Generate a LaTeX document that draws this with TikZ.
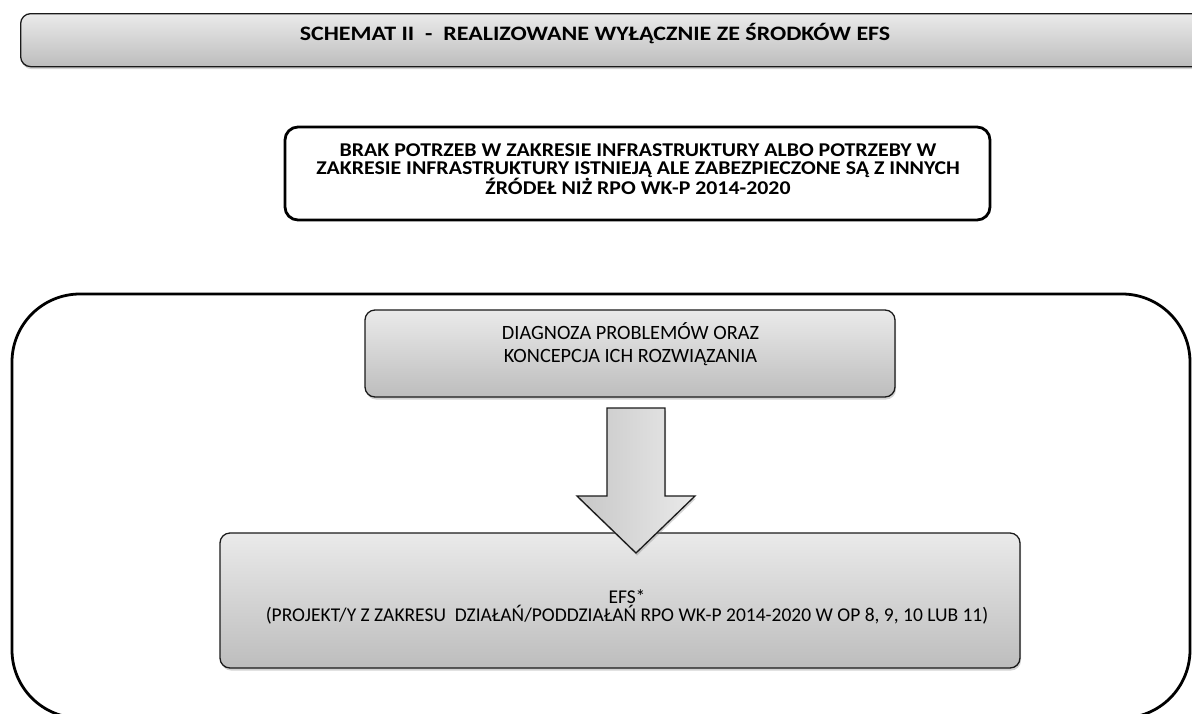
\documentclass[tikz,border=0pt]{standalone}
\usepackage{fontspec}
\setmainfont{Carlito}
\newfontfamily\widebold[FakeStretch=1.17]{Carlito}
\newfontfamily\condbold[FakeStretch=1.12]{Carlito}
\usetikzlibrary{shadows}
\definecolor{boxtop}{HTML}{EAEAEA}
\definecolor{boxbot}{HTML}{BDBDBD}
\definecolor{edge}{HTML}{1A1A1A}
\tikzset{
  grad/.style={top color=boxtop, bottom color=boxbot},
  shad/.style={drop shadow={opacity=0.35, shadow xshift=1pt, shadow yshift=-2.5pt}},
  graybox/.style={draw=edge, line width=1.3pt, rounded corners=10pt, grad, shad},
  whitebox/.style={draw=black, line width=2.8pt, rounded corners=13pt, fill=white},
  bigframe/.style={draw=black, line width=2.8pt, rounded corners=68pt},
  label/.style={inner sep=0pt, align=center},
}
\begin{document}
\begin{tikzpicture}[x=1pt,y=-1pt]
\useasboundingbox (0,0) rectangle (1192,713);
\clip (0,0) rectangle (1192,713);
% title bar
\node[graybox, minimum width=1200pt, minimum height=53pt, anchor=north west] (bar) at (20,13) {};
\node[label, font=\widebold\bfseries\fontsize{20.5}{24}\selectfont] (title) at (595,33.5) {SCHEMAT II\ \ -\ \ REALIZOWANE WYŁĄCZNIE ZE ŚRODKÓW EFS};
% condition box
\node[whitebox, minimum width=705pt, minimum height=93pt] (cond) at (637.5,173.5) {};
\node[label, font=\condbold\bfseries\fontsize{19.5}{18.1}\selectfont] (condt) at (638,169)
 {BRAK POTRZEB W ZAKRESIE INFRASTRUKTURY ALBO POTRZEBY W\\ZAKRESIE INFRASTRUKTURY ISTNIEJĄ ALE ZABEZPIECZONE SĄ Z INNYCH\\ŹRÓDEŁ NIŻ RPO WK-P 2014-2020};
% big frame
\node[bigframe, minimum width=1178pt, minimum height=424pt] (frame) at (601,506) {};
% diagnosis box
\node[graybox, minimum width=530pt, minimum height=87pt] (diag) at (630,353.5) {};
\node[label, font=\fontsize{20.3}{22.4}\selectfont] (diagt) at (630.5,344) {DIAGNOZA PROBLEMÓW ORAZ\\KONCEPCJA ICH ROZWIĄZANIA};
% EFS box
\node[graybox, minimum width=800pt, minimum height=135pt] (efs) at (620,600.5) {};
\node[label, font=\fontsize{19.5}{18.6}\selectfont] (efst) at (627,607) {EFS*\\(PROJEKT/Y Z ZAKRESU\ \ DZIAŁAŃ/PODDZIAŁAŃ RPO WK-P 2014-2020 W OP 8, 9, 10 LUB 11)};
% arrow from diagnosis to EFS
\path[draw=edge, line width=1.3pt, left color=boxbot!85!white, right color=boxtop, shad]
  (607,408) -- (665,408) -- (665,496) -- (695,496) -- (636,553) -- (577,496) -- (607,496) -- cycle;
\end{tikzpicture}
\end{document}
